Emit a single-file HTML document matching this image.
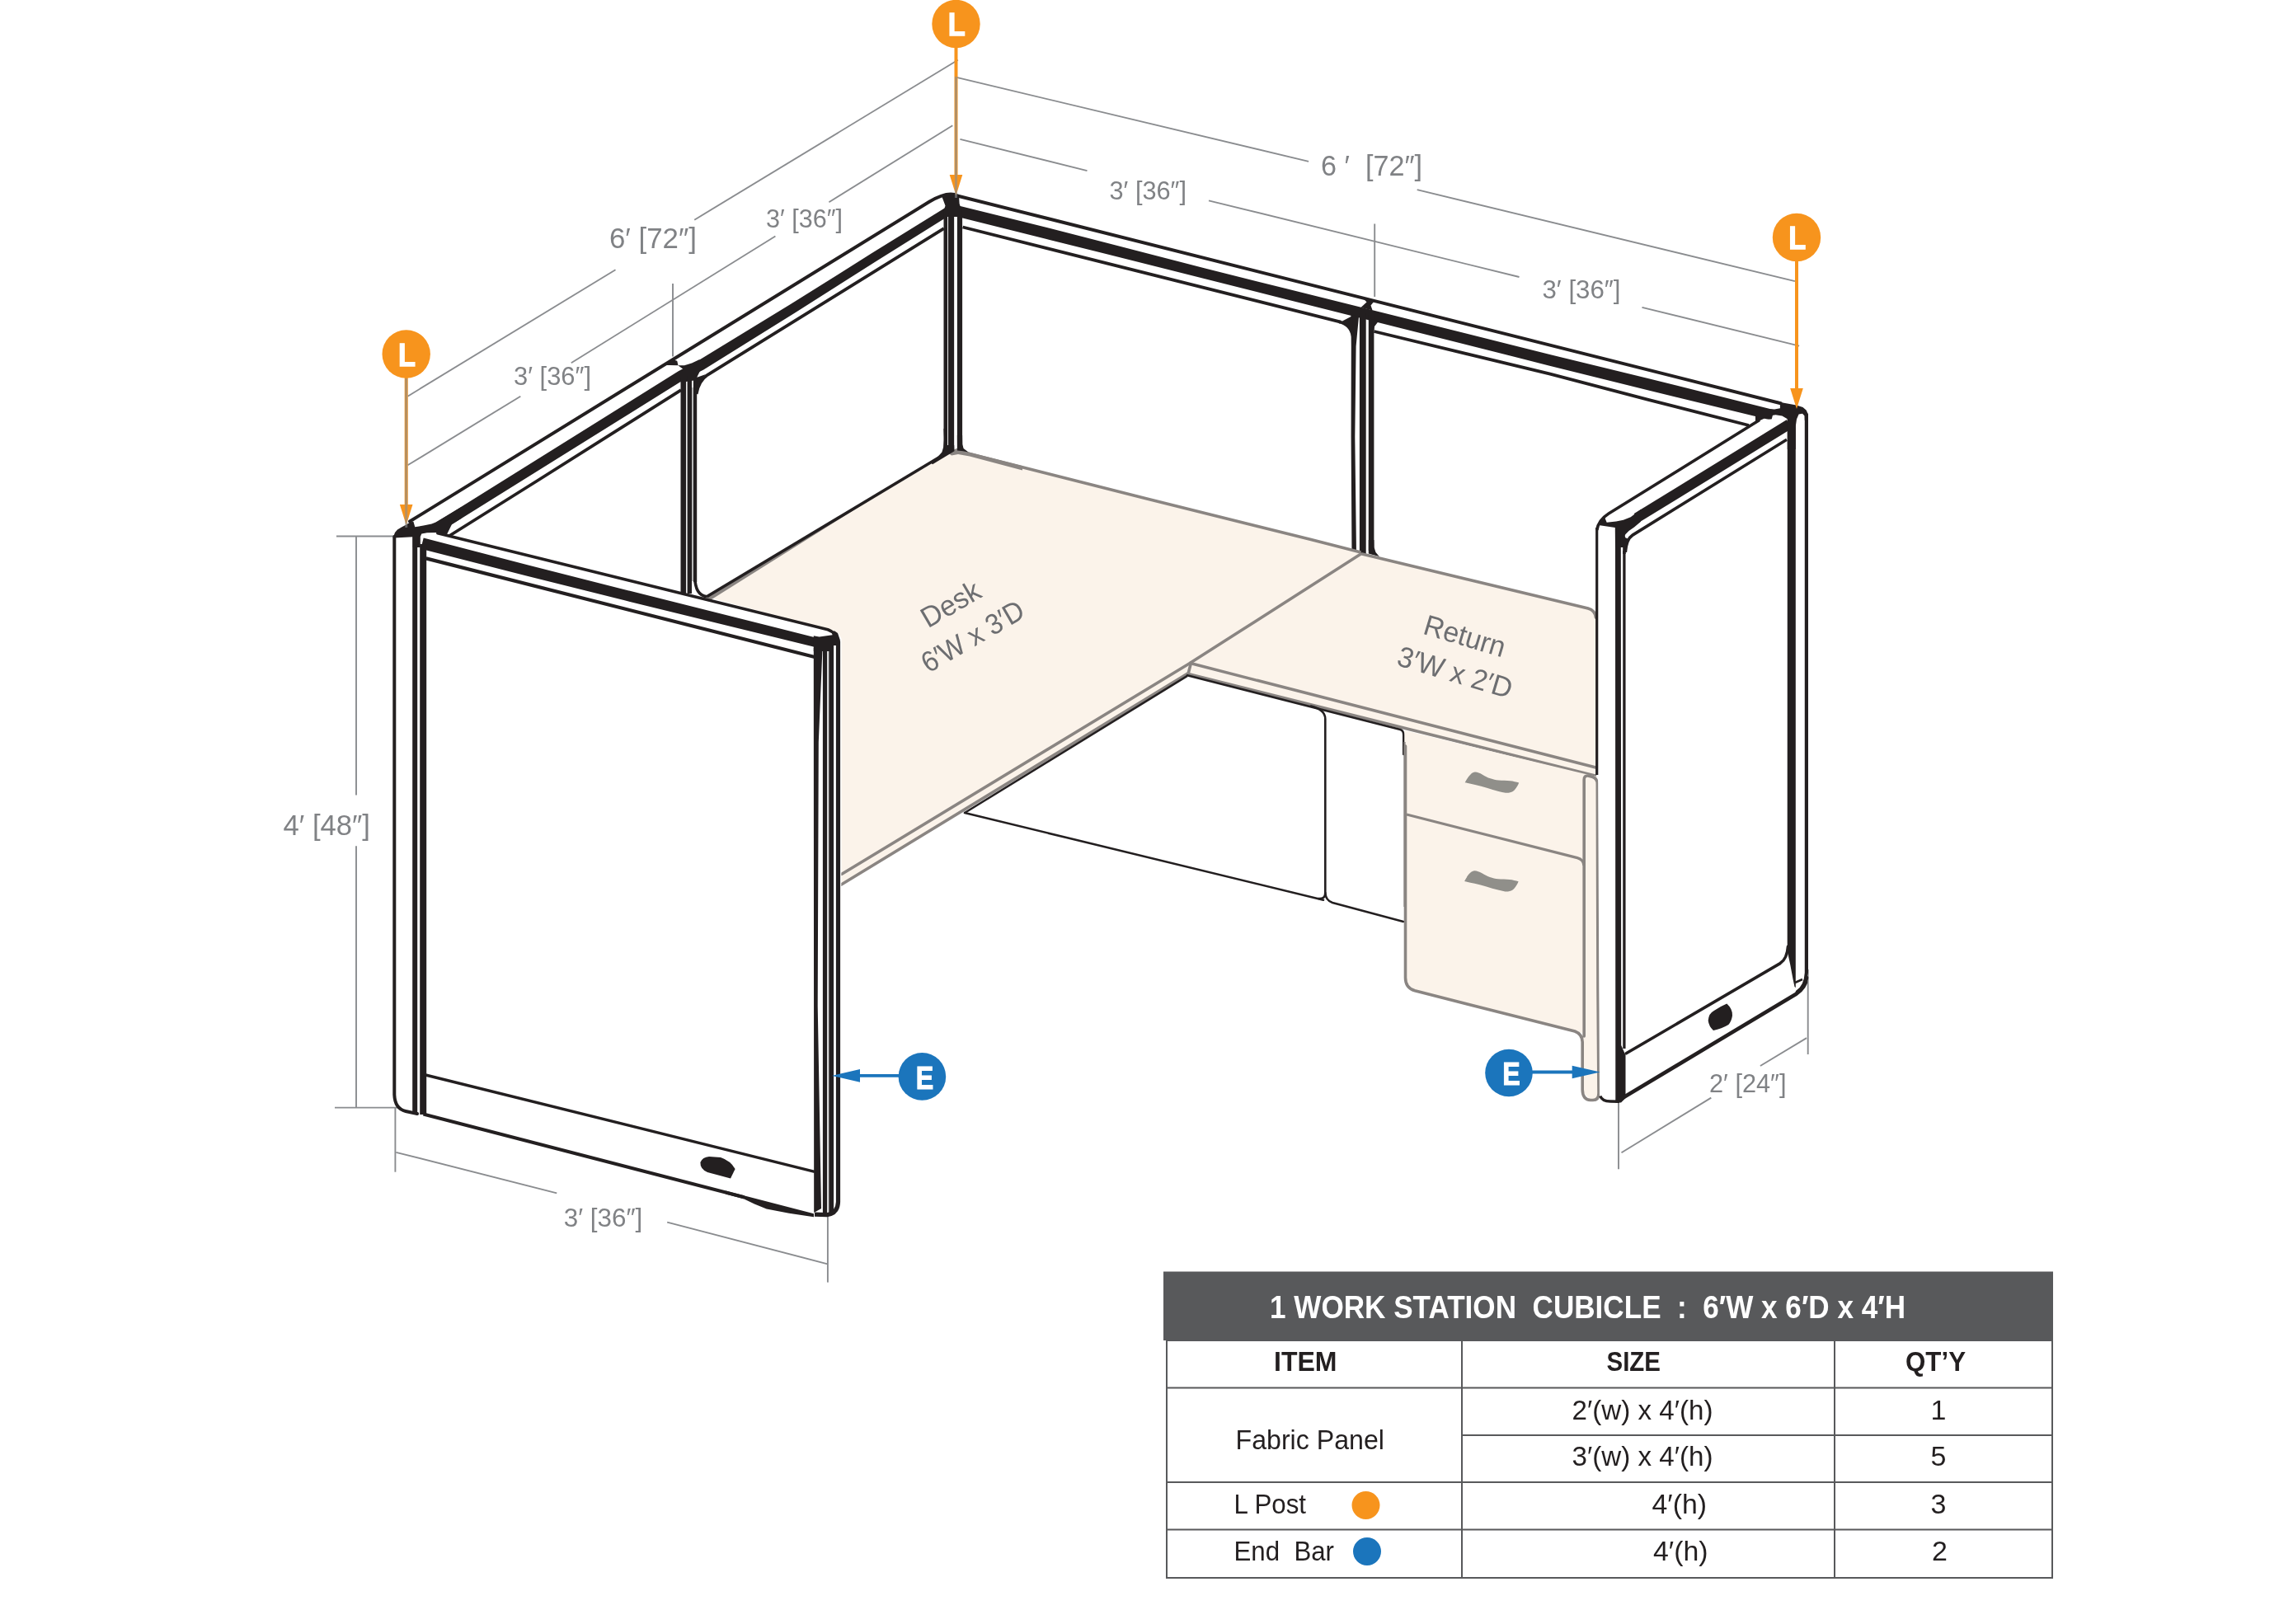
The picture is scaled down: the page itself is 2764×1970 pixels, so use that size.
<!DOCTYPE html>
<html><head><meta charset="utf-8"><title>1 Work Station Cubicle</title>
<style>html,body{margin:0;padding:0;background:#fff}svg{display:block;will-change:transform}</style></head>
<body>
<svg width="2764" height="1970" viewBox="0 0 2764 1970" font-family="'Liberation Sans', sans-serif">
<rect width="2764" height="1970" fill="#fff"/>
<line x1="1161.8" y1="72.8" x2="842.2" y2="266.7" stroke="#8A8C8F" stroke-width="1.9" stroke-linecap="butt"/>
<line x1="746.5" y1="327.2" x2="494.5" y2="480.7" stroke="#8A8C8F" stroke-width="1.9" stroke-linecap="butt"/>
<line x1="1155.3" y1="152.3" x2="1005.4" y2="245.3" stroke="#8A8C8F" stroke-width="1.9" stroke-linecap="butt"/>
<line x1="940.4" y1="286.5" x2="692.8" y2="440.2" stroke="#8A8C8F" stroke-width="1.9" stroke-linecap="butt"/>
<line x1="631.3" y1="480.7" x2="494.5" y2="564.3" stroke="#8A8C8F" stroke-width="1.9" stroke-linecap="butt"/>
<line x1="816" y1="344" x2="816" y2="432.5" stroke="#8A8C8F" stroke-width="1.9" stroke-linecap="butt"/>
<line x1="1160.2" y1="93.9" x2="1587.1" y2="195.9" stroke="#8A8C8F" stroke-width="1.9" stroke-linecap="butt"/>
<line x1="1718.7" y1="230.1" x2="2176.9" y2="341.2" stroke="#8A8C8F" stroke-width="1.9" stroke-linecap="butt"/>
<line x1="1164.4" y1="168.8" x2="1318.5" y2="207.1" stroke="#8A8C8F" stroke-width="1.9" stroke-linecap="butt"/>
<line x1="1466" y1="243.3" x2="1842.5" y2="336" stroke="#8A8C8F" stroke-width="1.9" stroke-linecap="butt"/>
<line x1="1991.5" y1="372.8" x2="2182.1" y2="419.7" stroke="#8A8C8F" stroke-width="1.9" stroke-linecap="butt"/>
<line x1="1667.2" y1="271.5" x2="1667.2" y2="360" stroke="#8A8C8F" stroke-width="1.9" stroke-linecap="butt"/>
<line x1="408" y1="650.5" x2="497" y2="650.5" stroke="#8A8C8F" stroke-width="1.9" stroke-linecap="butt"/>
<line x1="406" y1="1343.6" x2="489" y2="1343.6" stroke="#8A8C8F" stroke-width="1.9" stroke-linecap="butt"/>
<line x1="432" y1="650.5" x2="432" y2="964.6" stroke="#8A8C8F" stroke-width="1.9" stroke-linecap="butt"/>
<line x1="432" y1="1026.2" x2="432" y2="1343.6" stroke="#8A8C8F" stroke-width="1.9" stroke-linecap="butt"/>
<line x1="479.4" y1="1343.6" x2="479.4" y2="1421.7" stroke="#8A8C8F" stroke-width="1.9" stroke-linecap="butt"/>
<line x1="480.3" y1="1397.8" x2="675.3" y2="1447.3" stroke="#8A8C8F" stroke-width="1.9" stroke-linecap="butt"/>
<line x1="809.2" y1="1482.7" x2="1003.7" y2="1533.3" stroke="#8A8C8F" stroke-width="1.9" stroke-linecap="butt"/>
<line x1="1003.9" y1="1473.4" x2="1003.9" y2="1555.6" stroke="#8A8C8F" stroke-width="1.9" stroke-linecap="butt"/>
<line x1="2192.7" y1="1176" x2="2192.7" y2="1279" stroke="#8A8C8F" stroke-width="1.9" stroke-linecap="butt"/>
<line x1="1963" y1="1336.3" x2="1963" y2="1418.2" stroke="#8A8C8F" stroke-width="1.9" stroke-linecap="butt"/>
<line x1="1966.5" y1="1398.3" x2="2075.3" y2="1331.6" stroke="#8A8C8F" stroke-width="1.9" stroke-linecap="butt"/>
<line x1="2134.9" y1="1293" x2="2191.1" y2="1259.1" stroke="#8A8C8F" stroke-width="1.9" stroke-linecap="butt"/>
<text x="739" y="301" font-size="35" fill="#808285" font-weight="normal" text-anchor="start" textLength="106" lengthAdjust="spacingAndGlyphs">6′ [72″]</text>
<text x="929" y="276" font-size="31" fill="#808285" font-weight="normal" text-anchor="start" textLength="93" lengthAdjust="spacingAndGlyphs">3′ [36″]</text>
<text x="623" y="467.2" font-size="31" fill="#808285" font-weight="normal" text-anchor="start" textLength="94" lengthAdjust="spacingAndGlyphs">3′ [36″]</text>
<text x="1602" y="213.3" font-size="35" fill="#808285" font-weight="normal" text-anchor="start" textLength="123" lengthAdjust="spacingAndGlyphs">6 ′  [72″]</text>
<text x="1345.5" y="241.8" font-size="31" fill="#808285" font-weight="normal" text-anchor="start" textLength="93.5" lengthAdjust="spacingAndGlyphs">3′ [36″]</text>
<text x="1870.5" y="362.3" font-size="31" fill="#808285" font-weight="normal" text-anchor="start" textLength="95" lengthAdjust="spacingAndGlyphs">3′ [36″]</text>
<text x="343.5" y="1012.9" font-size="35" fill="#808285" font-weight="normal" text-anchor="start" textLength="105.5" lengthAdjust="spacingAndGlyphs">4′ [48″]</text>
<text x="683.8" y="1487.6" font-size="31" fill="#808285" font-weight="normal" text-anchor="start" textLength="95.5" lengthAdjust="spacingAndGlyphs">3′ [36″]</text>
<text x="2073" y="1324.6" font-size="31" fill="#808285" font-weight="normal" text-anchor="start" textLength="93.5" lengthAdjust="spacingAndGlyphs">2′ [24″]</text>
<path d="M497 632.5 L1127 244.8 Q1150 231 1162 237.7 L2159.6 489.2" fill="none" stroke="#231F20" stroke-width="4" stroke-linejoin="round" stroke-linecap="round"/>
<polygon points="528.2,648.5 829.2,460.8 853.3,448.6 964.9,378.9 1062.9,316.7 1152.8,260.5 1147.2,251.5 1057.1,307.3 958.8,369.1 846.7,437.4 822.8,450.3 521.8,638.3" fill="#231F20" stroke="none" stroke-width="0" stroke-linejoin="round"/>
<path d="M545 650 L650.3 584 L740 527.4 L826 473.2" fill="none" stroke="#231F20" stroke-width="3.8" stroke-linejoin="round" stroke-linecap="butt"/>
<path d="M1144.8 277.2 L858 454.8 Q847 462.4 844.6 478" fill="none" stroke="#231F20" stroke-width="3.8" stroke-linejoin="round" stroke-linecap="butt"/>
<polygon points="844.7,458 856,454 850,461.1 846,468 844.7,480 840.9,480 840.9,458" fill="#231F20" stroke="none" stroke-width="0" stroke-linejoin="round"/>
<polygon points="1156.4,261.7 1268.3,289.8 1338.4,307.2 1458.5,337.6 1558.5,362.8 1838.4,433.2 1878.4,443.4 1998.3,473.3 2148.4,509.8 2151.6,497.2 2001.7,459.7 1881.6,430.6 1841.6,420.4 1561.5,350.6 1461.5,325.6 1341.6,294.6 1271.7,276.6 1159.6,248.7" fill="#231F20" stroke="none" stroke-width="0" stroke-linejoin="round"/>
<line x1="1167.6" y1="275.5" x2="1626" y2="390.6" stroke="#231F20" stroke-width="3.8" stroke-linecap="butt"/>
<path d="M1666.5 402 L1880 453.7 L2000 485.1 L2121 516" fill="none" stroke="#231F20" stroke-width="3.8" stroke-linejoin="round" stroke-linecap="butt"/>
<polygon points="1142,237.6 1150,234 1158,234.2 1163,237.3 1163.6,247 1166.8,257 1166.8,263 1144.8,263 1144.8,255 1146.5,249.5" fill="#231F20" stroke="none" stroke-width="0" stroke-linejoin="round"/>
<line x1="1146.8" y1="262" x2="1146.8" y2="548" stroke="#231F20" stroke-width="4.6" stroke-linecap="butt"/>
<line x1="1153.6" y1="258" x2="1153.6" y2="548" stroke="#231F20" stroke-width="7.1" stroke-linecap="butt"/>
<line x1="1164" y1="262" x2="1164" y2="546" stroke="#231F20" stroke-width="6.2" stroke-linecap="butt"/>
<polygon points="806,443 816.2,436.2 821.2,437.8 822.5,443.2 812.7,443.1" fill="#231F20" stroke="none" stroke-width="0" stroke-linejoin="round"/>
<polygon points="822.3,443.3 830,443.2 839,440.6 848,436.3 858,442.3 850,448.1 845.5,457 844.7,461 825.8,464 825.8,461.6 823,450.9 828.5,447.8" fill="#231F20" stroke="none" stroke-width="0" stroke-linejoin="round"/>
<line x1="828.8" y1="460" x2="828.8" y2="720" stroke="#231F20" stroke-width="6.6" stroke-linecap="butt"/>
<line x1="836.3" y1="456" x2="836.3" y2="720" stroke="#231F20" stroke-width="5.4" stroke-linecap="butt"/>
<line x1="840" y1="470" x2="840" y2="705" stroke="#B8B8B8" stroke-width="2" stroke-linecap="butt"/>
<line x1="843.1" y1="456" x2="843.1" y2="706" stroke="#231F20" stroke-width="4.2" stroke-linecap="butt"/>
<path d="M842.8 700 Q843 722 857.2 723.8" fill="none" stroke="#231F20" stroke-width="3.6" stroke-linejoin="round" stroke-linecap="round"/>
<polygon points="1653,361.5 1667,365 1662.5,370.6 1664.6,376.5 1650.5,373 1657.5,366.5" fill="#231F20" stroke="none" stroke-width="0" stroke-linejoin="round"/>
<polygon points="1638.4,382 1648,384 1644.6,420 1643.3,530 1645,672 1639.5,672 1638.6,530 1638.8,420" fill="#231F20" stroke="none" stroke-width="0" stroke-linejoin="round"/>
<line x1="1652.8" y1="380" x2="1652.8" y2="674" stroke="#231F20" stroke-width="7.8" stroke-linecap="butt"/>
<line x1="1663.1" y1="382" x2="1663.1" y2="668" stroke="#231F20" stroke-width="6.6" stroke-linecap="butt"/>
<polygon points="1666,388 1672,389.5 1667,396 1666,405 1660,405 1660,386" fill="#231F20" stroke="none" stroke-width="0" stroke-linejoin="round"/>
<path d="M1624 390.3 Q1638 393 1640.8 408" fill="none" stroke="#231F20" stroke-width="3.8" stroke-linejoin="round" stroke-linecap="butt"/>
<polygon points="1628,389.5 1638.5,384 1640,384 1641.5,408 1638.5,398" fill="#231F20" stroke="none" stroke-width="0" stroke-linejoin="round"/>
<polygon points="1659.8,655 1666.4,655 1666.6,664 1668.5,670 1672.8,675 1665,673 1659.8,671.5" fill="#231F20" stroke="none" stroke-width="0" stroke-linejoin="round"/>
<polygon points="1158.4,545.8 1651.5,671 1654.3,672.3 1926,738 1933,741 1936,749 1936,940.5 1444,819 1440,817 1020.3,1073.5 1020.3,1066 1020.3,774 1008.3,764.8 857,724" fill="#FBF3EA" stroke="none" stroke-width="0" stroke-linejoin="round"/>
<polygon points="857.2,724 1060,602.2 1060,603.2 862,727.8 857.5,727.5" fill="#8A8582" stroke="none" stroke-width="0" stroke-linejoin="round"/>
<path d="M1166 548 L1390 604.8 L1590 654.4 L1650.5 670" fill="none" stroke="#8A8582" stroke-width="3.6" stroke-linejoin="round" stroke-linecap="butt"/>
<polygon points="1155,546.5 1160,544 1166,544 1174,548.3 1240,565.2 1240,570.6 1176,553.6 1162,551 1154,552.6 1150,549.5" fill="#8A8582" stroke="none" stroke-width="0" stroke-linejoin="round"/>
<path d="M1650 672.2 L1443.8 804.1" fill="none" stroke="#8A8582" stroke-width="3.6" stroke-linejoin="round" stroke-linecap="round"/>
<path d="M1652 672 L1926 738.1 Q1934.5 740.5 1935.4 749" fill="none" stroke="#8A8582" stroke-width="3.6" stroke-linejoin="round" stroke-linecap="round"/>
<path d="M1443.5 804.3 L1021 1060.3" fill="none" stroke="#8A8582" stroke-width="3.6" stroke-linejoin="round" stroke-linecap="round"/>
<path d="M1440 817.2 L1020 1073.3" fill="none" stroke="#8A8582" stroke-width="3.6" stroke-linejoin="round" stroke-linecap="round"/>
<path d="M1443.8 804.6 L1934.4 930.8" fill="none" stroke="#8A8582" stroke-width="3.6" stroke-linejoin="round" stroke-linecap="round"/>
<path d="M1441 817.5 L1934.4 941" fill="none" stroke="#8A8582" stroke-width="3.6" stroke-linejoin="round" stroke-linecap="round"/>
<path d="M1441 817.5 L1444 806" fill="none" stroke="#8A8582" stroke-width="3.6" stroke-linejoin="round" stroke-linecap="round"/>
<line x1="857.2" y1="723.8" x2="1152" y2="547" stroke="#231F20" stroke-width="3.6" stroke-linecap="butt"/>
<polygon points="1144.5,520 1145.1,533 1144.2,542.2 1142.4,548.4 1136.9,554.5 1128,560.5 1131,563.3 1157.5,547.2 1157.2,540 1149,540 1149,520" fill="#231F20" stroke="none" stroke-width="0" stroke-linejoin="round"/>
<polygon points="1160.9,528 1167.1,528 1167.3,539 1168.6,544 1174.5,548.6 1168,547.3 1161,546.6" fill="#231F20" stroke="none" stroke-width="0" stroke-linejoin="round"/>
<path d="M1440 819.3 L1698.3 885 Q1702.3 886 1702.3 892 L1702.3 915" fill="none" stroke="#231F20" stroke-width="2.6" stroke-linejoin="round" stroke-linecap="round"/>
<path d="M1590 856.5 Q1607.3 861 1607.3 872 L1607.3 1083 Q1607.3 1091 1599 1090" fill="none" stroke="#231F20" stroke-width="2.6" stroke-linejoin="round" stroke-linecap="round"/>
<line x1="1440" y1="819.8" x2="1170" y2="986" stroke="#231F20" stroke-width="2.6" stroke-linecap="butt"/>
<path d="M1170 986 L1605 1091.7 M1607.3 1083 Q1608 1092.5 1616 1095 L1702 1118" fill="none" stroke="#231F20" stroke-width="2.6" stroke-linejoin="round" stroke-linecap="round"/>
<polygon points="1703.5,886 1920.8,938.6 1937,942 1939,1326 1938,1334.5 1929,1334.5 1919.2,1324 1919.2,1253 1716,1201.5 1703.5,1189" fill="#FBF3EA" stroke="none" stroke-width="0" stroke-linejoin="round"/>
<path d="M1921.2 1257 L1921.2 946 Q1921.2 940.5 1926 941 L1931 942.2 Q1937.3 944 1937.3 951 L1938 1200 L1939 1326 Q1939 1334.5 1932 1334.5 L1929 1334.5 Q1919.5 1334 1919.2 1322 L1919.2 1264 Q1919 1254.5 1910 1251 L1716 1201.8 Q1704.5 1198.5 1704.5 1186 L1704.5 905" fill="none" stroke="#8A8582" stroke-width="3.6" stroke-linejoin="round" stroke-linecap="round"/>
<line x1="1703.5" y1="900" x2="1703.5" y2="1100" stroke="#8A8582" stroke-width="2.2" stroke-linecap="butt"/>
<path d="M1706 988 L1913 1040.6 Q1920.5 1042.6 1921 1050" fill="none" stroke="#8A8582" stroke-width="3.2" stroke-linejoin="round" stroke-linecap="butt"/>
<path d="M1776.7 949.3 C1779 945 1781 941.5 1783.5 939.4 C1785.5 937.5 1787.5 936.5 1789.1 936.6 C1792 936.8 1795 938 1797.6 939.4 C1801 941.3 1804 943.2 1807.5 944.3 C1811 945.5 1814 946.2 1817.5 946.5 C1822 946.9 1827 946.8 1831.6 947.2 C1835 947.5 1839 948.5 1842.2 949.6 C1841 952.5 1839.5 955.5 1837.3 957.8 C1835.8 959.5 1834 960.8 1831.6 961.3 C1830 961.8 1828 961.9 1826 961.8 C1823 961.4 1820.5 960.7 1817.5 959.9 C1813 958.6 1808 957.2 1803.3 955.7 C1798.5 954.4 1794 953.2 1789.1 952.1 C1785 951.1 1781 950.2 1776.7 949.3 Z" fill="#908F8A" stroke="none" stroke-width="0" stroke-linejoin="round" stroke-linecap="round"/>
<path d="M1776.1 1069 C1778.4 1064.7 1780.4 1061.2 1782.9 1059.1 C1784.9 1057.2 1786.9 1056.2 1788.5 1056.3 C1791.4 1056.5 1794.4 1057.7 1797 1059.1 C1800.4 1061 1803.4 1062.9 1806.9 1064 C1810.4 1065.2 1813.4 1065.9 1816.9 1066.2 C1821.4 1066.6 1826.4 1066.5 1831 1066.9 C1834.4 1067.2 1838.4 1068.2 1841.6 1069.3 C1840.4 1072.2 1838.9 1075.2 1836.7 1077.5 C1835.2 1079.2 1833.4 1080.5 1831 1081 C1829.4 1081.5 1827.4 1081.6 1825.4 1081.5 C1822.4 1081.1 1819.9 1080.4 1816.9 1079.6 C1812.4 1078.3 1807.4 1076.9 1802.7 1075.4 C1797.9 1074.1 1793.4 1072.9 1788.5 1071.8 C1784.4 1070.8 1780.4 1069.9 1776.1 1069 Z" fill="#908F8A" stroke="none" stroke-width="0" stroke-linejoin="round" stroke-linecap="round"/>
<text x="1125.5" y="762.5" font-size="35" fill="#6D6E71" font-weight="normal" text-anchor="start" textLength="77.5" lengthAdjust="spacingAndGlyphs" transform="rotate(-30.3 1125.5 762.5)">Desk</text>
<text x="1126" y="817" font-size="35" fill="#6D6E71" font-weight="normal" text-anchor="start" textLength="138" lengthAdjust="spacingAndGlyphs" transform="rotate(-30.3 1126 817)">6′W x 3′D</text>
<text x="1724.5" y="768.5" font-size="35" fill="#6D6E71" font-weight="normal" text-anchor="start" textLength="101.5" lengthAdjust="spacingAndGlyphs" transform="rotate(16.6 1724.5 768.5)">Return</text>
<text x="1692.5" y="806.5" font-size="35" fill="#6D6E71" font-weight="normal" text-anchor="start" textLength="143.5" lengthAdjust="spacingAndGlyphs" transform="rotate(16.6 1692.5 806.5)">3′W x 2′D</text>
<polygon points="1936.7,642 1951,623 2134,509.5 2168,507 2192,503 2192.7,1190 2180,1205 1972,1333 1940,1334" fill="#fff" stroke="none" stroke-width="0" stroke-linejoin="round"/>
<path d="M2134 509.5 L1951 623 Q1938.5 631 1936.8 643" fill="none" stroke="#231F20" stroke-width="3.6" stroke-linejoin="round" stroke-linecap="butt"/>
<polygon points="2166.8,509.2 1981.8,623.1 1988.2,633.6 2173.2,519.7" fill="#231F20" stroke="none" stroke-width="0" stroke-linejoin="round"/>
<path d="M2167 533.3 L1980 649.1 Q1972.4 654 1971.3 670" fill="none" stroke="#231F20" stroke-width="3.6" stroke-linejoin="round" stroke-linecap="butt"/>
<polygon points="1990,618.1 1977.7,627.2 1968.9,630.7 1960.1,632.5 1948.7,633.8 1946.1,627.6 1941.5,631.5 1937.6,636.4 1938.6,637 1958.8,640 1959,664 1968.2,664 1968.2,672 1971.7,672 1971.4,664 1972.6,657.5 1974.5,653.6 1971.3,652.3 1970.7,650 1971.3,648.3 1975.5,643.9 1982,639.5 1990,632.8" fill="#231F20" stroke="none" stroke-width="0" stroke-linejoin="round"/>
<polygon points="2158.9,491 2155,486.3 2159.5,488 2178.6,491.6 2186.5,494 2190.8,497.8 2193,503 2193,510 2188.8,510 2188.6,504.5 2186,501.8 2181.6,502.4 2179,508.5 2177.8,517 2177.8,545 2167.8,545 2167.8,508.2 2161.4,504.4 2153.4,503.2 2146,504.4 2133.7,510.6 2129,513.5 2129,503 2140,495.8 2152.1,496.4 2158.9,495.2" fill="#231F20" stroke="none" stroke-width="0" stroke-linejoin="round"/>
<polygon points="2167.8,505 2177.8,505 2177.8,1198 2176.5,1197 2174.6,1188 2171.2,1170 2168.6,1158 2167.7,1145" fill="#231F20" stroke="none" stroke-width="0" stroke-linejoin="round"/>
<path d="M2190.9 503 L2190.9 1180 Q2190 1196 2180 1203" fill="none" stroke="#231F20" stroke-width="4.2" stroke-linejoin="round" stroke-linecap="round"/>
<line x1="1936.7" y1="640" x2="1936.7" y2="940" stroke="#231F20" stroke-width="3.2" stroke-linecap="butt"/>
<polygon points="1959,645 1965.8,645 1966.2,1268 1971.5,1280 1971.5,1332 1966,1337.5 1959.3,1337.5" fill="#231F20" stroke="none" stroke-width="0" stroke-linejoin="round"/>
<line x1="1969.9" y1="668" x2="1969.9" y2="1272" stroke="#231F20" stroke-width="3.3" stroke-linecap="butt"/>
<path d="M1940.8 1329.5 Q1943 1336 1953 1336 L1964 1336.2" fill="none" stroke="#231F20" stroke-width="3.4" stroke-linejoin="round" stroke-linecap="butt"/>
<path d="M1972.3 1277.8 L2159 1168.6 Q2167.5 1163 2168.5 1148" fill="none" stroke="#231F20" stroke-width="3.6" stroke-linejoin="round" stroke-linecap="round"/>
<path d="M1966 1333 L2178 1206 Q2190 1198 2191 1186" fill="none" stroke="#231F20" stroke-width="4.6" stroke-linejoin="round" stroke-linecap="round"/>
<line x1="2177" y1="1192" x2="2186" y2="1188" stroke="#231F20" stroke-width="2.5" stroke-linecap="butt"/>
<path d="M2071.7 1238 Q2072.5 1229 2078.8 1226 Q2086 1221 2094.3 1217.5 Q2101.5 1224 2101 1232 Q2100 1239 2096.3 1243 Q2088 1248 2078 1250 Q2072.5 1245 2071.7 1238 Z" fill="#231F20" stroke="none" stroke-width="0" stroke-linejoin="round" stroke-linecap="round"/>
<polygon points="478,651 500,634 530.9,646.7 1008.3,764.8 1017,768 1020.3,775 1020.3,1460 1008,1474.5 987,1474.5 515,1352 489,1347.5 478,1330" fill="#fff" stroke="none" stroke-width="0" stroke-linejoin="round"/>
<polygon points="476.6,652.5 479,646 482,642.5 487,639.5 492.2,636.8 497.5,633.5 501.4,632.8 503.3,639.3 513.7,637.5 523.5,635.6 528.5,633.4 560,614.8 560,628.4 548,636.1 542,648.2 530.9,646 518,646.3 511.3,647.5 509.8,651 509.8,664 500.8,664 500.8,651.2 478,652.5" fill="#231F20" stroke="none" stroke-width="0" stroke-linejoin="round"/>
<path d="M530.9 646.7 L1004 763.7 Q1016 768 1016.5 780" fill="none" stroke="#231F20" stroke-width="3.6" stroke-linejoin="round" stroke-linecap="round"/>
<polygon points="510.3,665.7 638.4,698.5 758.5,728.6 988.6,785 991.4,773.9 761.5,716.2 641.6,685.7 513.7,652.6" fill="#231F20" stroke="none" stroke-width="0" stroke-linejoin="round"/>
<line x1="516.8" y1="677.4" x2="988" y2="797" stroke="#231F20" stroke-width="4.2" stroke-linecap="butt"/>
<path d="M478.3 651 L478.3 1328 Q479 1345 492 1348 L506 1351" fill="none" stroke="#231F20" stroke-width="4" stroke-linejoin="round" stroke-linecap="round"/>
<line x1="503.2" y1="650" x2="503.2" y2="1351" stroke="#231F20" stroke-width="6" stroke-linecap="butt"/>
<line x1="513.2" y1="660" x2="513.2" y2="1352" stroke="#231F20" stroke-width="8" stroke-linecap="butt"/>
<line x1="516.2" y1="1304" x2="988" y2="1421.3" stroke="#231F20" stroke-width="3.4" stroke-linecap="butt"/>
<path d="M513.5 1351.5 L902.5 1452.2" fill="none" stroke="#231F20" stroke-width="4" stroke-linejoin="round" stroke-linecap="butt"/>
<polygon points="880,1444.4 987,1472.3 987,1476.3 957,1471.8 929.7,1466.6 915,1460.5 902.5,1454.6 880,1448.4" fill="#231F20" stroke="none" stroke-width="0" stroke-linejoin="round"/>
<path d="M849.4 1410 Q852 1403.5 860 1403 L874 1404 Q886 1408 891.6 1418 L886 1429.5 L858 1422 Q849 1418 849.4 1410 Z" fill="#231F20" stroke="none" stroke-width="0" stroke-linejoin="round" stroke-linecap="round"/>
<polygon points="986.8,786 997.5,786 992.8,900 991.7,1220 996,1466 987.2,1471" fill="#231F20" stroke="none" stroke-width="0" stroke-linejoin="round"/>
<line x1="1000.5" y1="783" x2="1000.5" y2="1472" stroke="#231F20" stroke-width="5.2" stroke-linecap="butt"/>
<line x1="1004.2" y1="790" x2="1004.2" y2="1470" stroke="#D9D9D9" stroke-width="2.4" stroke-linecap="butt"/>
<line x1="1008.2" y1="775" x2="1008.2" y2="1473" stroke="#231F20" stroke-width="5.8" stroke-linecap="butt"/>
<path d="M1016.5 778 L1016.5 1458 Q1016 1472 1003 1473.6 L988 1473.2" fill="none" stroke="#231F20" stroke-width="5.2" stroke-linejoin="round" stroke-linecap="butt"/>
<polygon points="993.6,772.6 1009.6,770.3 1008.6,766.6 1012,765.2 1016,768 1018.9,776.5 1018.9,783 1011,783 1011,790 986.8,790 986.8,784.7 986.8,771.2" fill="#231F20" stroke="none" stroke-width="0" stroke-linejoin="round"/>
<line x1="1159.5" y1="49" x2="1159.5" y2="217" stroke="#F7941D" stroke-width="4" stroke-linecap="butt"/>
<polygon points="1151.7,212 1167.3,212 1159.5,237" fill="#F7941D" stroke="none" stroke-width="0" stroke-linejoin="round"/>
<line x1="1159.5" y1="93" x2="1159.5" y2="240" stroke="#8A8C8F" stroke-width="3" opacity="0.6"/>
<circle cx="1159.5" cy="29" r="29.2" fill="#F7941D"/>
<text x="1160.3" y="43.2" font-size="39" fill="#fff" font-weight="bold" text-anchor="middle" textLength="21" lengthAdjust="spacingAndGlyphs" stroke="#fff" stroke-width="1.3">L</text>
<line x1="492.7" y1="449.5" x2="492.7" y2="617" stroke="#F7941D" stroke-width="4" stroke-linecap="butt"/>
<polygon points="484.9,612 500.5,612 492.7,637" fill="#F7941D" stroke="none" stroke-width="0" stroke-linejoin="round"/>
<line x1="492.7" y1="459" x2="492.7" y2="640" stroke="#8A8C8F" stroke-width="3" opacity="0.6"/>
<circle cx="492.7" cy="429.5" r="29.2" fill="#F7941D"/>
<text x="493.5" y="443.7" font-size="39" fill="#fff" font-weight="bold" text-anchor="middle" textLength="21" lengthAdjust="spacingAndGlyphs" stroke="#fff" stroke-width="1.3">L</text>
<line x1="2179" y1="308" x2="2179" y2="476" stroke="#F7941D" stroke-width="4" stroke-linecap="butt"/>
<polygon points="2171.2,471 2186.8,471 2179,496" fill="#F7941D" stroke="none" stroke-width="0" stroke-linejoin="round"/>
<circle cx="2179" cy="288" r="29.2" fill="#F7941D"/>
<text x="2179.8" y="302.2" font-size="39" fill="#fff" font-weight="bold" text-anchor="middle" textLength="21" lengthAdjust="spacingAndGlyphs" stroke="#fff" stroke-width="1.3">L</text>
<line x1="1118.4" y1="1304.9" x2="1039" y2="1304.9" stroke="#1B75BC" stroke-width="3.9" stroke-linecap="butt"/>
<polygon points="1043,1297.1 1043,1312.7 1009,1304.9" fill="#1B75BC" stroke="none" stroke-width="0" stroke-linejoin="round"/>
<circle cx="1118.4" cy="1305.9" r="28.8" fill="#1B75BC"/>
<text x="1121.4" y="1320.7" font-size="39.5" fill="#fff" font-weight="bold" text-anchor="middle" textLength="21.5" lengthAdjust="spacingAndGlyphs" stroke="#fff" stroke-width="1.1">E</text>
<line x1="1830" y1="1300.5" x2="1910.7" y2="1300.5" stroke="#1B75BC" stroke-width="3.9" stroke-linecap="butt"/>
<polygon points="1906.7,1292.7 1906.7,1308.3 1940.7,1300.5" fill="#1B75BC" stroke="none" stroke-width="0" stroke-linejoin="round"/>
<circle cx="1830" cy="1301.5" r="28.8" fill="#1B75BC"/>
<text x="1833" y="1316.3" font-size="39.5" fill="#fff" font-weight="bold" text-anchor="middle" textLength="21.5" lengthAdjust="spacingAndGlyphs" stroke="#fff" stroke-width="1.1">E</text>
<rect x="1411" y="1542.5" width="1079" height="83.5" fill="#58595B"/>
<text x="1540" y="1599" font-size="38" fill="#fff" font-weight="bold" text-anchor="start" textLength="771" lengthAdjust="spacingAndGlyphs">1 WORK STATION  CUBICLE  :  6′W x 6′D x 4′H</text>
<line x1="1414" y1="1626" x2="2490" y2="1626" stroke="#58595B" stroke-width="2" stroke-linecap="butt"/>
<line x1="1414" y1="1683.5" x2="2490" y2="1683.5" stroke="#58595B" stroke-width="2" stroke-linecap="butt"/>
<line x1="1414" y1="1798" x2="2490" y2="1798" stroke="#58595B" stroke-width="2" stroke-linecap="butt"/>
<line x1="1414" y1="1855.5" x2="2490" y2="1855.5" stroke="#58595B" stroke-width="2" stroke-linecap="butt"/>
<line x1="1414" y1="1914" x2="2490" y2="1914" stroke="#58595B" stroke-width="2" stroke-linecap="butt"/>
<line x1="1773" y1="1741" x2="2490" y2="1741" stroke="#58595B" stroke-width="2" stroke-linecap="butt"/>
<line x1="1415" y1="1626" x2="1415" y2="1915" stroke="#58595B" stroke-width="2" stroke-linecap="butt"/>
<line x1="1773" y1="1626" x2="1773" y2="1915" stroke="#58595B" stroke-width="2" stroke-linecap="butt"/>
<line x1="2225" y1="1626" x2="2225" y2="1915" stroke="#58595B" stroke-width="2" stroke-linecap="butt"/>
<line x1="2489" y1="1626" x2="2489" y2="1915" stroke="#58595B" stroke-width="2" stroke-linecap="butt"/>
<text x="1545" y="1662.5" font-size="33" fill="#231F20" font-weight="bold" text-anchor="start" textLength="76.5" lengthAdjust="spacingAndGlyphs">ITEM</text>
<text x="1948.5" y="1662.5" font-size="33" fill="#231F20" font-weight="bold" text-anchor="start" textLength="65.5" lengthAdjust="spacingAndGlyphs">SIZE</text>
<text x="2311" y="1662.5" font-size="33" fill="#231F20" font-weight="bold" text-anchor="start" textLength="73" lengthAdjust="spacingAndGlyphs">QT’Y</text>
<text x="1498.5" y="1758" font-size="34" fill="#231F20" font-weight="normal" text-anchor="start" textLength="180.5" lengthAdjust="spacingAndGlyphs">Fabric Panel</text>
<text x="1906.5" y="1721.5" font-size="34" fill="#231F20" font-weight="normal" text-anchor="start" textLength="171" lengthAdjust="spacingAndGlyphs">2′(w) x 4′(h)</text>
<text x="1906.5" y="1778" font-size="34" fill="#231F20" font-weight="normal" text-anchor="start" textLength="171" lengthAdjust="spacingAndGlyphs">3′(w) x 4′(h)</text>
<text x="2351" y="1721.5" font-size="34" fill="#231F20" font-weight="normal" text-anchor="middle">1</text>
<text x="2351" y="1778" font-size="34" fill="#231F20" font-weight="normal" text-anchor="middle">5</text>
<text x="2351" y="1835.5" font-size="34" fill="#231F20" font-weight="normal" text-anchor="middle">3</text>
<text x="2352.5" y="1893" font-size="34" fill="#231F20" font-weight="normal" text-anchor="middle">2</text>
<text x="1496.5" y="1835.5" font-size="34" fill="#231F20" font-weight="normal" text-anchor="start" textLength="87.5" lengthAdjust="spacingAndGlyphs">L Post</text>
<text x="1496.5" y="1893" font-size="34" fill="#231F20" font-weight="normal" text-anchor="start" textLength="121.5" lengthAdjust="spacingAndGlyphs">End  Bar</text>
<text x="2003.5" y="1835.5" font-size="34" fill="#231F20" font-weight="normal" text-anchor="start" textLength="66.5" lengthAdjust="spacingAndGlyphs">4′(h)</text>
<text x="2005" y="1893" font-size="34" fill="#231F20" font-weight="normal" text-anchor="start" textLength="66.5" lengthAdjust="spacingAndGlyphs">4′(h)</text>
<circle cx="1656.5" cy="1826" r="17" fill="#F7941D"/>
<circle cx="1658" cy="1882" r="17" fill="#1B75BC"/>
</svg>
</body></html>
